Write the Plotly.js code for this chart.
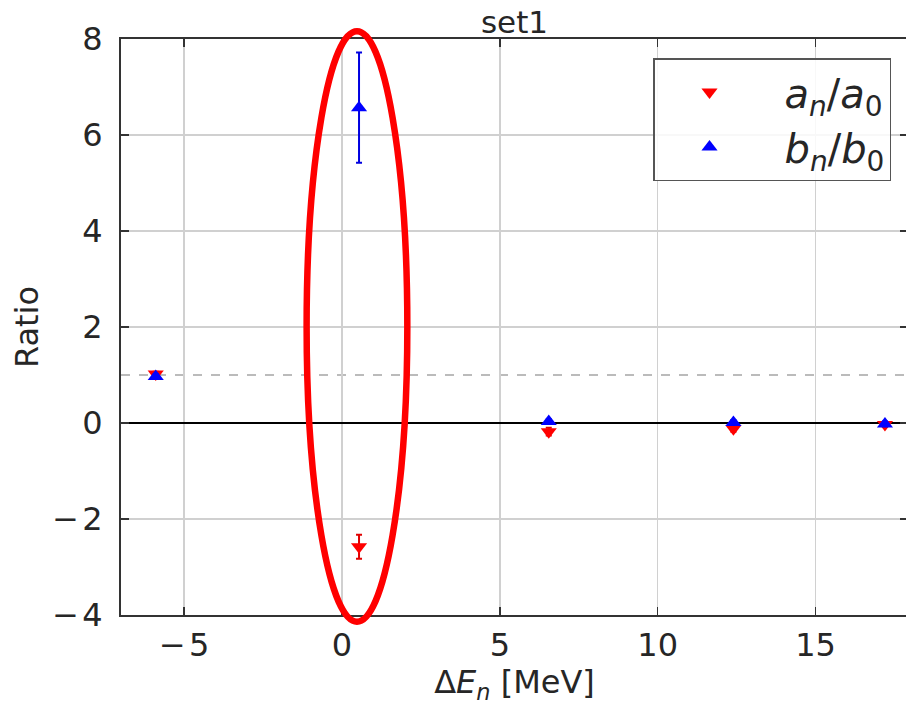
<!DOCTYPE html>
<html>
<head>
<meta charset="utf-8">
<script src="https://cdn.plot.ly/plotly-3.0.1.min.js"></script>
<style>
html,body{margin:0;padding:0;background:#fff;overflow:hidden;}
#chart{width:910px;height:705px;}
</style>
</head>
<body>
<div id="chart"></div>
<script>
// ---- data ----
const deltaE = [-5.9, 0.54, 6.55, 12.4, 17.2];
const aRatio = [1.02, -2.58, -0.18, -0.12, -0.03];
const aErr   = [0.05, 0.25, 0.08, 0.06, 0.05];
const bRatio = [0.97, 6.57, 0.03, 0.01, -0.02];
const bErr   = [0.05, 1.15, 0.05, 0.05, 0.05];
const xTicks = [-5, 0, 5, 10, 15];
const yTicks = [-4, -2, 0, 2, 4, 6, 8];
const xRange = [-7.0, 17.93];
const yRange = [-4, 8];
// highlighted region (data coordinates)
const ellX = [-1.12, 2.07];
const ellY = [-4.14, 8.16];

const txt = '#262626';
const fnt = 'DejaVu Sans, sans-serif';

function px(v){ return (v - xRange[0]) / (xRange[1] - xRange[0]); }
function py(v){ return (v - yRange[0]) / (yRange[1] - yRange[0]); }
function lab(v){ return v < 0 ? '\u2212\u200A' + Math.abs(v) : String(v); }

const traces = [
  {
    x: deltaE, y: aRatio, type: 'scatter', mode: 'markers',
    name: '\u2002<i>a</i><sub><i>n</i></sub>/<i>a</i><sub>0</sub>',
    marker: {symbol: 'triangle-down', size: 14, color: '#ff0000'},
    error_y: {type: 'data', array: aErr, visible: true, color: '#e00000', thickness: 2, width: 3}
  },
  {
    x: deltaE, y: bRatio, type: 'scatter', mode: 'markers',
    name: '\u2002<i>b</i><sub><i>n</i></sub>/<i>b</i><sub>0</sub>',
    marker: {symbol: 'triangle-up', size: 14, color: '#0000ff'},
    error_y: {type: 'data', array: bErr, visible: true, color: '#0000e0', thickness: 2, width: 3}
  }
];

const layout = {
  width: 910, height: 705,
  margin: {l: 121, r: 2, t: 39, b: 90},
  paper_bgcolor: '#ffffff', plot_bgcolor: '#ffffff',
  font: {family: fnt, size: 32, color: txt},
  showlegend: true,
  title: {text: 'set1', x: 0.5, xref: 'paper', xanchor: 'center', y: 1, yref: 'paper', yanchor: 'bottom', pad: {b: 6}, font: {family: fnt, size: 31, color: txt}},
  xaxis: {
    range: xRange, tickvals: xTicks, ticktext: xTicks.map(lab),
    showgrid: true, gridcolor: '#d0d0d0', gridwidth: 1.5, zeroline: false,
    showline: true, linecolor: '#333333', linewidth: 2, mirror: 'ticks',
    ticks: 'inside', ticklen: 8, tickwidth: 1.5, tickcolor: '#333333',
    ticklabelstandoff: 1,
    tickfont: {family: fnt, size: 32, color: txt},
    title: {text: '\u0394<i>E</i><sub><i>n</i></sub> [MeV]', standoff: 8, font: {family: fnt, size: 32, color: txt}}
  },
  yaxis: {
    range: yRange, tickvals: yTicks, ticktext: yTicks.map(lab),
    showgrid: true, gridcolor: '#d0d0d0', gridwidth: 1.5,
    zeroline: true, zerolinecolor: '#000000', zerolinewidth: 2.5,
    showline: true, linecolor: '#333333', linewidth: 2, mirror: 'ticks',
    ticks: 'inside', ticklen: 8, tickwidth: 1.5, tickcolor: '#333333',
    ticklabelstandoff: 10,
    tickfont: {family: fnt, size: 32, color: txt},
    title: {text: 'Ratio', standoff: 4, font: {family: fnt, size: 32, color: txt}}
  },
  legend: {
    x: 0.676, y: 0.967, xanchor: 'left', yanchor: 'top',
    bgcolor: 'rgba(255,255,255,0.85)', bordercolor: '#555555', borderwidth: 1.5,
    font: {family: fnt, size: 40, color: txt},
    itemwidth: 100, tracegroupgap: 0
  },
  shapes: [
    {type: 'line', xref: 'paper', x0: 0, x1: 1, yref: 'y', y0: 1, y1: 1, layer: 'between',
     line: {color: '#bbbbbb', width: 2, dash: 'dash'}},
    {type: 'circle', xref: 'paper', yref: 'paper', layer: 'above',
     x0: px(ellX[0]), x1: px(ellX[1]), y0: py(ellY[0]), y1: py(ellY[1]),
     line: {color: '#ff0000', width: 6.5}}
  ]
};

Plotly.newPlot('chart', traces, layout, {staticPlot: true, displayModeBar: false});
</script>
</body>
</html>
